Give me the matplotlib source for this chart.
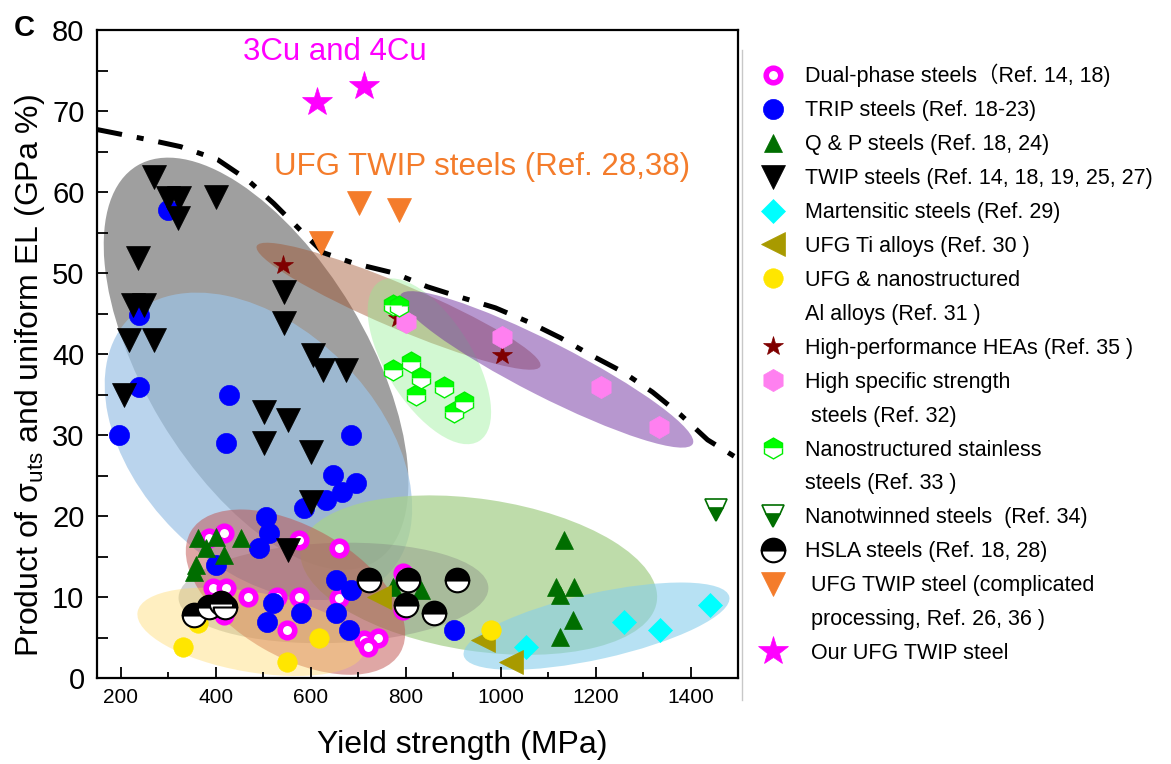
import matplotlib
matplotlib.use("Agg")
import matplotlib.pyplot as plt
import matplotlib.transforms as mtransforms
from matplotlib.lines import Line2D
from matplotlib.patches import Ellipse
from matplotlib.ticker import MultipleLocator

plt.rcParams['font.family'] = ['Liberation Sans', 'Noto Sans CJK SC', 'DejaVu Sans']
plt.rcParams['mathtext.fontset'] = 'custom'
plt.rcParams['mathtext.rm'] = 'Liberation Sans'

# ---- data: yield strength (MPa), product UTS x uniform EL (GPa %) ----
dp_x = [385, 417, 575, 659, 394, 421, 469, 530, 575, 659, 551, 712, 741, 720, 794, 794, 417]
dp_y = [17.3, 17.9, 17, 16, 11.1, 11.1, 10, 10, 10, 9.9, 5.9, 4.7, 4.9, 3.8, 13, 8.4, 7.8]

trip_x = [299, 238, 238, 196, 427, 421, 684, 648, 695, 667, 632, 585, 505, 512, 491, 400,
          653, 684, 520, 579, 509, 653, 680, 901]
trip_y = [57.8, 44.8, 35.9, 30, 34.9, 29, 30, 25.1, 24.1, 23, 22, 21, 19.9, 17.9, 16, 14,
          12.1, 10.9, 9.3, 8, 6.9, 8, 5.9, 5.9]

qp_x = [362, 400, 453, 379, 417, 358, 354, 1133, 1116, 1154, 1126, 1152, 1126, 832, 773]
qp_y = [17.3, 17.4, 17.3, 16, 15.2, 14, 13.1, 17, 11.2, 11.2, 10.2, 7.2, 5.1, 10.9, 11.2]

twip_x = [269, 299, 322, 320, 400, 236, 225, 248, 217, 269, 543, 543, 604, 627, 674, 206,
          501, 552, 501, 600, 600, 552]
twip_y = [61.9, 59.3, 59.3, 56.8, 59.4, 51.9, 46, 46, 41.7, 41.7, 47.7, 43.8, 39.9, 38, 38, 35,
          32.8, 31.9, 29, 27.9, 21.7, 15.8]

mart_x = [1053, 1259, 1335, 1442]
mart_y = [3.8, 6.9, 5.9, 9]

ti_x = [962, 1021, 743]
ti_y = [4.7, 2, 10]

al_x = [331, 551, 617, 362, 979]
al_y = [3.8, 2, 4.9, 6.8, 5.9]

hea_x = [541, 1004, 783]
hea_y = [51, 39.9, 44.4]

hss_x = [800, 1002, 1211, 1333]
hss_y = [44, 42.1, 35.9, 31]

nss_x = [773, 785, 773, 811, 832, 821, 880, 922, 901]
nss_y = [46, 45.9, 38, 39, 37, 34.9, 35.9, 34.1, 32.8]

nt_x = [1453]
nt_y = [20.7]

hsla_x = [722, 804, 909, 800, 859, 354, 385, 412, 420]
hsla_y = [12.1, 12.1, 12.1, 9, 8, 7.8, 8.8, 9.2, 8.8]

ufg_x = [621, 701, 785]
ufg_y = [53.7, 58.6, 57.8]

ours_x = [614, 712]
ours_y = [71.1, 73.1]

# upper bound (dash-dot guide line)
bound_x = [151, 263, 326, 404, 467, 522, 585, 627, 691, 775, 846, 916, 989, 1057, 1126,
           1189, 1257, 1320, 1379, 1436, 1505]
bound_y = [67.7, 66.4, 65.6, 64, 61.5, 58.6, 54.9, 52.5, 51.2, 50, 48.3, 47, 45.7, 44, 42,
           39.9, 37.8, 35.3, 32.5, 29.4, 26.9]

# shaded regions: centre (MPa, GPa %), size in pixels, angle, colour, alpha
regions = [
    ((485, 38.8), 462, 222, -59, '#7f7f7f', 0.75),   # TWIP
    ((490, 28.6), 364, 238, -45, '#9dc3e6', 0.70),   # TRIP
    ((785, 45.9), 308, 44, -23, '#a0522d', 0.45),    # HEAs
    ((850, 39.1), 188, 86, -58, '#90ee90', 0.40),    # stainless
    ((1097, 38.1), 328, 54, -27, '#7030a0', 0.50),   # high specific strength
    ((954, 12.7), 360, 152, -8.5, '#a9d18e', 0.75),  # Q&P
    ((648, 10.5), 310, 100, 2, '#7f7f7f', 0.35),     # HSLA
    ((568, 10.6), 242, 130, -30, '#c0504d', 0.50),   # dual-phase
    ((474, 5.7), 230, 80, -10, '#ffd966', 0.40),     # Al alloys
    ((1202, 6.4), 272, 66, 12.5, '#87ceeb', 0.60),   # martensitic
]

fig = plt.figure(figsize=(11.71, 7.64), dpi=100)
ax = fig.add_axes([97 / 1171, 86 / 764, 641 / 1171, 648 / 764])
ax.set_xlim(150, 1500)
ax.set_ylim(0, 80)

for (cx, cy), w, h, ang, col, al in regions:
    tr = fig.dpi_scale_trans + mtransforms.ScaledTranslation(cx, cy, ax.transData)
    ax.add_patch(Ellipse((0, 0), w / 100, h / 100, angle=ang, transform=tr,
                         facecolor=col, edgecolor='none', alpha=al, zorder=1))

ax.plot(bound_x, bound_y, color='k', lw=3.6, linestyle=(0, (5, 3, 1.4, 3)), zorder=2)

kw = dict(linestyle='none', zorder=3)
h_dp, = ax.plot(dp_x, dp_y, marker='o', ms=10.5, mfc='white', mec='#ff00ff', mew=4, **kw)
h_trip, = ax.plot(trip_x, trip_y, marker='o', ms=14.5, mfc='#0000ff', mec='#0000ff', mew=0.5, **kw)
h_qp, = ax.plot(qp_x, qp_y, marker='^', ms=13, mfc='#006e00', mec='#006e00', mew=0.5, **kw)
h_twip, = ax.plot(twip_x, twip_y, marker='v', ms=17, mfc='k', mec='k', mew=0.5, **kw)
h_mart, = ax.plot(mart_x, mart_y, marker='D', ms=12.5, mfc='#00ffff', mec='#00ffff', mew=0.5, **kw)
h_ti, = ax.plot(ti_x, ti_y, marker='<', ms=17, mfc='#a89a00', mec='#a89a00', mew=0.5, **kw)
h_al, = ax.plot(al_x, al_y, marker='o', ms=14, mfc='#ffe600', mec='#ffe600', mew=0.5, **kw)
h_hea, = ax.plot(hea_x, hea_y, marker='*', ms=15, mfc='#7f0000', mec='#7f0000', mew=0.5, **kw)
h_hss, = ax.plot(hss_x, hss_y, marker='h', ms=16, mfc='#ff80f0', mec='#ff80f0', mew=0.5, **kw)
h_nss, = ax.plot(nss_x, nss_y, marker='h', ms=15, fillstyle='top', mfc='#00ff00',
                 mfcalt='white', mec='#00ee00', mew=1, **kw)
h_nt, = ax.plot(nt_x, nt_y, marker='v', ms=16, fillstyle='bottom', mfc='#006e00',
                mfcalt='white', mec='#006e00', mew=1.2, **kw)
h_hsla, = ax.plot(hsla_x, hsla_y, marker='o', ms=17, fillstyle='top', mfc='k',
                  mfcalt='white', mec='k', mew=1.5, **kw)
h_ufg, = ax.plot(ufg_x, ufg_y, marker='v', ms=17, mfc='#f47c2b', mec='#f47c2b', mew=0.5, **kw)
h_ours, = ax.plot(ours_x, ours_y, marker='*', ms=22, mfc='#ff00ff', mec='#ff00ff', mew=0.5, **kw)

ax.text(650, 77.3, '3Cu and 4Cu', color='#ff00ff', fontsize=22.5, ha='center', va='center')
ax.text(960, 63.1, 'UFG TWIP steels (Ref. 28,38)', color='#f47c2b', fontsize=22.5,
        ha='center', va='center')

ax.xaxis.set_major_locator(MultipleLocator(200))
ax.xaxis.set_minor_locator(MultipleLocator(100))
ax.yaxis.set_major_locator(MultipleLocator(10))
ax.yaxis.set_minor_locator(MultipleLocator(5))
ax.tick_params(axis='both', which='both', direction='in', width=1.3)
ax.tick_params(axis='x', which='major', length=8, labelsize=15, pad=7)
ax.tick_params(axis='x', which='minor', length=4)
ax.tick_params(axis='y', which='both', length=8, labelsize=21, pad=9)
for sp in ax.spines.values():
    sp.set_linewidth(1.6)

ax.set_xlabel('Yield strength (MPa)', fontsize=23, va='center')
ax.xaxis.set_label_coords((462 - 97) / 641, -(745 - 678) / 648)
ax.set_ylabel('Product of σ$_{\\mathrm{uts}}$ and uniform EL (GPa %)', fontsize=23, va='center')
ax.yaxis.set_label_coords(-(97 - 30) / 641, (678 - 375) / 648)
fig.text(0.012, 0.963, 'C', fontsize=21, fontweight='bold', va='center')

blank = Line2D([], [], linestyle='none')
handles = [h_dp, h_trip, h_qp, h_twip, h_mart, h_ti, h_al, blank, h_hea, h_hss, blank,
           h_nss, blank, h_nt, h_hsla, h_ufg, blank, h_ours]
labels = ['Dual-phase steels（Ref. 14, 18)', 'TRIP steels (Ref. 18-23)',
          'Q & P steels (Ref. 18, 24)', 'TWIP steels (Ref. 14, 18, 19, 25, 27)',
          'Martensitic steels (Ref. 29)', 'UFG Ti alloys (Ref. 30 )',
          'UFG & nanostructured', 'Al alloys (Ref. 31 )',
          'High-performance HEAs (Ref. 35 )', 'High specific strength',
          ' steels (Ref. 32)', 'Nanostructured stainless', 'steels (Ref. 33 )',
          'Nanotwinned steels  (Ref. 34)', 'HSLA steels (Ref. 18, 28)',
          ' UFG TWIP steel (complicated', ' processing, Ref. 26, 36 )', ' Our UFG TWIP steel']
ax.legend(handles, labels, loc='upper left', bbox_to_anchor=(757 / 1171, 1 - 64 / 764),
          bbox_transform=fig.transFigure, frameon=False, fontsize=15.5, handlelength=1.5,
          handletextpad=0.72, labelspacing=0.6, borderpad=0, borderaxespad=0, numpoints=1)

fig.add_artist(Line2D([742 / 1171] * 2, [1 - 50 / 764, 1 - 700 / 764], color='#c8c8c8', lw=1))

fig.savefig('out.png', dpi=100)
